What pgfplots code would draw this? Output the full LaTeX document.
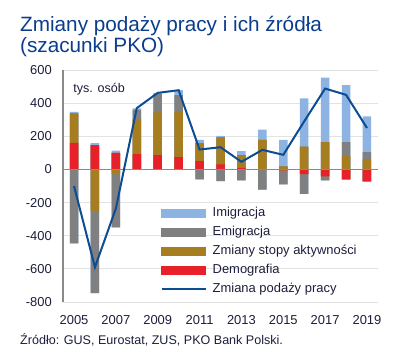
\documentclass[border=0pt]{standalone}
\usepackage{pgfplots}
\pgfplotsset{compat=1.18}
\usepackage{pgfplotstable}
\usepackage{fontspec}
\setmainfont{Liberation Sans}
\definecolor{cImi}{HTML}{8DB3E2}
\definecolor{cEmi}{HTML}{808080}
\definecolor{cAkt}{HTML}{A67E20}
\definecolor{cDem}{HTML}{E8202A}
\definecolor{cLine}{HTML}{0B4C92}
\definecolor{cTitle}{HTML}{0B3D8C}
\definecolor{cZero}{HTML}{8A8A8A}
\definecolor{cGrid}{HTML}{E3E3E3}
\definecolor{cText}{HTML}{1C1E3A}
\pgfplotstableread{
year dem akt emi imi total
2005 160 178 -446 10 -100
2006 146 -250 -496 12 -590
2007 100 -30 -320 14 -236
2008 92 212 56 8 370
2009 86 258 110 8 462
2010 74 274 100 30 478
2011 50 108 -60 20 120
2012 30 164 -70 8 134
2013 10 76 -66 24 46
2014 0 178 -122 62 118
2015 -6 18 -84 160 88
2016 -28 138 -120 290 290
2017 -42 164 -24 390 488
2018 -60 80 84 344 450
2019 -72 62 42 216 250
}\data
\begin{document}
\begin{tikzpicture}
\path[use as bounding box] (0,0) rectangle (414bp,354bp);
\node[anchor=base west, text=cTitle, font=\fontsize{20.8}{22}\selectfont, inner sep=0pt] at (20bp,322bp) {Zmiany podaży pracy i ich źródła};
\node[anchor=base west, text=cTitle, font=\fontsize{20.8}{22}\selectfont, inner sep=0pt] at (20bp,301bp) {(szacunki PKO)};
\node[anchor=base west, text=cText, font=\fontsize{12.6}{14}\selectfont, inner sep=0pt] at (20bp,10bp) {Źródło: GUS, Eurostat, ZUS, PKO Bank Polski.};
\begin{axis}[
  at={(63bp,52bp)}, anchor=south west,
  width=315bp, height=232bp, scale only axis,
  xmin=2004.474, xmax=2019.526,
  ymin=-800, ymax=600,
  axis line style={draw=none},
  major tick length=0pt,
  tick style={draw=none},
  xtick={2005,2007,2009,2011,2013,2015,2017,2019},
  xticklabels={2005,2007,2009,2011,2013,2015,2017,2019},
  ytick={-800,-600,-400,-200,0,200,400,600},
  yticklabels={-800,-600,-400,-200,0,200,400,600},
  xticklabel style={font=\fontsize{13}{14}\selectfont, text=cText, inner sep=0pt, anchor=north, yshift=-13bp},
  yticklabel style={font=\fontsize{13}{14}\selectfont, text=cText, inner sep=0pt, anchor=east, xshift=-11bp},
  ymajorgrids,
  grid style={draw=cGrid, line width=0.8bp},
  clip=false,
  legend style={at={(0.30,0.42)}, anchor=north west, draw=none, fill=none,
    font=\fontsize{13}{14}\selectfont, text=cText,
    row sep=6.5bp,
    nodes={inner sep=0pt, text height=9.5bp, text depth=3bp},
    /tikz/every odd column/.append style={column sep=6bp}},
  legend cell align=left,
]
% positive parts (cumulative overdraw)
\addplot[ybar, bar width=8.5bp, fill=cImi, draw=none, forget plot] table[x=year, y expr={max(\thisrow{dem},0)+max(\thisrow{akt},0)+max(\thisrow{emi},0)+max(\thisrow{imi},0)}]{\data};
\addplot[ybar, bar width=8.5bp, fill=cEmi, draw=none, forget plot] table[x=year, y expr={max(\thisrow{dem},0)+max(\thisrow{akt},0)+max(\thisrow{emi},0)}]{\data};
\addplot[ybar, bar width=8.5bp, fill=cAkt, draw=none, forget plot] table[x=year, y expr={max(\thisrow{dem},0)+max(\thisrow{akt},0)}]{\data};
\addplot[ybar, bar width=8.5bp, fill=cDem, draw=none, forget plot] table[x=year, y expr={max(\thisrow{dem},0)}]{\data};
% negative parts
\addplot[ybar, bar width=8.5bp, fill=cImi, draw=none, forget plot] table[x=year, y expr={min(\thisrow{dem},0)+min(\thisrow{akt},0)+min(\thisrow{emi},0)+min(\thisrow{imi},0)}]{\data};
\addplot[ybar, bar width=8.5bp, fill=cEmi, draw=none, forget plot] table[x=year, y expr={min(\thisrow{dem},0)+min(\thisrow{akt},0)+min(\thisrow{emi},0)}]{\data};
\addplot[ybar, bar width=8.5bp, fill=cAkt, draw=none, forget plot] table[x=year, y expr={min(\thisrow{dem},0)+min(\thisrow{akt},0)}]{\data};
\addplot[ybar, bar width=8.5bp, fill=cDem, draw=none, forget plot] table[x=year, y expr={min(\thisrow{dem},0)}]{\data};
% axis lines
\draw[cZero, line width=1.5bp] (rel axis cs:0,0) -- (rel axis cs:0,1);
\draw[cZero, line width=1.5bp] ({rel axis cs:0,0}|-{axis cs:2010,0}) -- ({rel axis cs:1,0}|-{axis cs:2010,0});
% total line
\addplot[cLine, line width=2bp, mark=none, forget plot] table[x=year, y=total]{\data};
\node[anchor=base west, text=cText, font=\fontsize{12.6}{14}\selectfont, inner sep=0pt] at (axis cs:2004.96,462) {tys. osób};
% legend
\addlegendimage{legend image code/.code={\fill[cImi] (0bp,-4bp) rectangle (44bp,4bp);}}
\addlegendentry{Imigracja}
\addlegendimage{legend image code/.code={\fill[cEmi] (0bp,-4bp) rectangle (44bp,4bp);}}
\addlegendentry{Emigracja}
\addlegendimage{legend image code/.code={\fill[cAkt] (0bp,-4bp) rectangle (44bp,4bp);}}
\addlegendentry{Zmiany stopy aktywności}
\addlegendimage{legend image code/.code={\fill[cDem] (0bp,-4bp) rectangle (44bp,4bp);}}
\addlegendentry{Demografia}
\addlegendimage{legend image code/.code={\draw[cLine, line width=2bp] (0bp,0bp) -- (44bp,0bp);}}
\addlegendentry{Zmiana podaży pracy}
\end{axis}
\end{tikzpicture}
\end{document}
